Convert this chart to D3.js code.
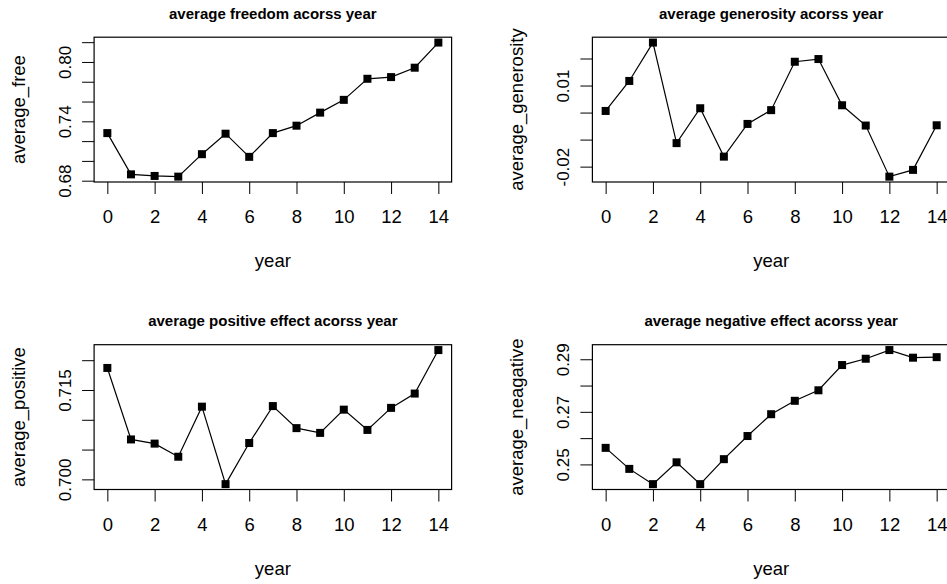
<!DOCTYPE html>
<html>
<head>
<meta charset="utf-8">
<script src="https://cdn.jsdelivr.net/npm/d3@7"></script>
<style>
	body { margin: 0; background: #fff; }
	svg { display: block; }
	text { font-family: "Liberation Sans", Arial, Helvetica, sans-serif; fill: #000; }
</style>
</head>
<body>
<div id="chart"></div>
<script>
// values
var years = [0, 1, 2, 3, 4, 5, 6, 7, 8, 9, 10, 11, 12, 13, 14];
var yearTicks = [0, 2, 4, 6, 8, 10, 12, 14];

var freeVals = [0.7281, 0.6864, 0.6848, 0.6841, 0.7068, 0.7275, 0.7041, 0.7281,
	0.7356, 0.7488, 0.7617, 0.7830, 0.7847, 0.7942, 0.8196];
var generosityVals = [0.0006, 0.0117, 0.0259, -0.0113, 0.0016, -0.0163, -0.0042, 0.0009,
	0.0188, 0.0198, 0.0027, -0.0048, -0.0237, -0.0212, -0.0047];
var positiveVals = [0.7187, 0.7067, 0.7060, 0.7038, 0.7122, 0.6992, 0.7061, 0.7123,
	0.7086, 0.7078, 0.7117, 0.7083, 0.7120, 0.7144, 0.7217];
var negativeVals = [0.2563, 0.2483, 0.2425, 0.2508, 0.2425, 0.2520, 0.2608, 0.2691,
	0.2742, 0.2782, 0.2878, 0.2902, 0.2935, 0.2906, 0.2908];

var freeTicks = [0.68, 0.70, 0.72, 0.74, 0.76, 0.78, 0.80, 0.82];
var freeLabels = [0.68, 0.74, 0.80];
var generosityTicks = [-0.02, -0.01, 0.00, 0.01, 0.02];
var generosityLabels = [-0.02, 0.01];
var positiveTicks = [0.700, 0.705, 0.710, 0.715, 0.720];
var positiveLabels = [0.700, 0.715];
var negativeTicks = [0.25, 0.26, 0.27, 0.28, 0.29];
var negativeLabels = [0.25, 0.27, 0.29];

var panels = [
	{ title: "average freedom acorss year", ylab: "average_free", values: freeVals,
		ticks: freeTicks, labels: freeLabels, digits: 2, col: 0, row: 0 },
	{ title: "average generosity acorss year", ylab: "average_generosity", values: generosityVals,
		ticks: generosityTicks, labels: generosityLabels, digits: 2, col: 1, row: 0 },
	{ title: "average positive effect acorss year", ylab: "average_positive", values: positiveVals,
		ticks: positiveTicks, labels: positiveLabels, digits: 3, col: 0, row: 1 },
	{ title: "average negative effect acorss year", ylab: "average_neagative", values: negativeVals,
		ticks: negativeTicks, labels: negativeLabels, digits: 2, col: 1, row: 1 }
];

var width = 947,
	height = 584,
	colStep = 498.3,
	rowStep = 307.5,
	boxLeft = 94.1,
	boxRight = 451.6,
	boxTop = 37.2,
	boxBottom = 182,
	markSize = 8;

var svg = d3.select("#chart")
	.append("svg")
	.attr("width", width)
	.attr("height", height);

// R style axis limits: data range widened by 4% on each side
function pad(ext) {
	var d = (ext[1] - ext[0]) * 0.04;
	return [ext[0] - d, ext[1] + d];
}

panels.forEach(function(p) {
	var g = svg.append("g")
		.attr("transform", "translate(" + (p.col * colStep) + "," + (p.row * rowStep) + ")");

	var x = d3.scaleLinear().domain(pad(d3.extent(years))).range([boxLeft, boxRight]);
	var y = d3.scaleLinear().domain(pad(d3.extent(p.values))).range([boxBottom, boxTop]);
	var cx = (boxLeft + boxRight) / 2;

	g.append("text")
		.attr("x", cx)
		.attr("y", 18.5)
		.attr("text-anchor", "middle")
		.attr("font-size", "15px")
		.attr("font-weight", "bold")
		.text(p.title);

	// x axis
	var xa = g.append("g")
		.attr("transform", "translate(0," + boxBottom + ")")
		.call(d3.axisBottom(x).tickValues(yearTicks).tickSize(12).tickPadding(16).tickFormat(d3.format("d")));
	xa.select(".domain").remove();
	xa.selectAll("text").attr("font-size", "18.5px").attr("font-family", null);
	xa.selectAll("line").attr("stroke", "#000");

	// y axis, only some ticks get a label
	var ya = g.append("g")
		.attr("transform", "translate(" + boxLeft + ",0)")
		.call(d3.axisLeft(y).tickValues(p.ticks).tickSize(12)
			.tickFormat(function(d) {
				var hit = p.labels.some(function(l) { return Math.abs(l - d) < 1e-9; });
				return hit ? d.toFixed(p.digits) : "";
			}));
	ya.select(".domain").remove();
	ya.selectAll("line").attr("stroke", "#000");
	ya.selectAll("text")
		.attr("x", null)
		.attr("dy", null)
		.attr("text-anchor", "middle")
		.attr("font-size", "17px")
		.attr("font-family", null)
		.attr("transform", "translate(-23,0) rotate(-90)");

	g.append("text")
		.attr("x", cx)
		.attr("y", 267)
		.attr("text-anchor", "middle")
		.attr("font-size", "18.5px")
		.text("year");

	g.append("text")
		.attr("transform", "translate(" + (boxLeft - 69) + "," + ((boxTop + boxBottom) / 2) + ") rotate(-90)")
		.attr("text-anchor", "middle")
		.attr("font-size", "18.5px")
		.text(p.ylab);

	g.append("rect")
		.attr("x", boxLeft)
		.attr("y", boxTop)
		.attr("width", boxRight - boxLeft)
		.attr("height", boxBottom - boxTop)
		.attr("fill", "none")
		.attr("stroke", "#000")
		.attr("stroke-width", 1.2);

	var line = d3.line()
		.x(function(d, i) { return x(years[i]); })
		.y(function(d) { return y(d); });

	g.append("path")
		.datum(p.values)
		.attr("d", line)
		.attr("fill", "none")
		.attr("stroke", "#000")
		.attr("stroke-width", 1.2);

	g.selectAll("rect.pt")
		.data(p.values)
		.enter().append("rect")
		.attr("class", "pt")
		.attr("x", function(d, i) { return x(years[i]) - markSize / 2; })
		.attr("y", function(d) { return y(d) - markSize / 2; })
		.attr("width", markSize)
		.attr("height", markSize)
		.attr("fill", "#000");
});
</script>
</body>
</html>
